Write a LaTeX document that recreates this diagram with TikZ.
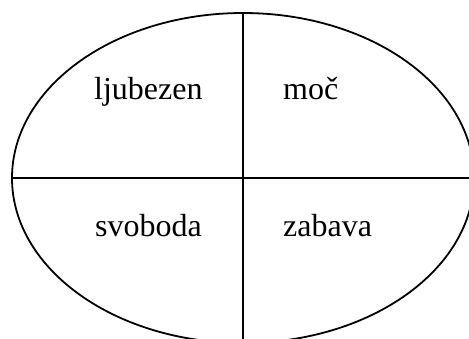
\documentclass[tikz,border=0pt]{standalone}
\usepackage{fontspec}
\setmainfont{Liberation Serif}
\begin{document}
\begin{tikzpicture}[x=1pt,y=-1pt,
  lbl/.style={anchor=base west,inner sep=0pt,font=\fontsize{32}{36}\selectfont},
  rim/.style={line width=1.8pt},
  divider/.style={line width=2.4pt}]
\useasboundingbox (0,0) rectangle (469,338);
\clip (0,0) rectangle (469,338);
\draw[rim] (243,178) ellipse [x radius=231, y radius=165];
\coordinate (top) at (243,13);
\coordinate (bot) at (243,345);
\coordinate (lft) at (12,178);
\coordinate (rgt) at (476,178);
\draw[divider] (top) -- (bot);
\draw[divider] (lft) -- (rgt);
\node[lbl] (l1) at (94,99) {ljubezen};
\node[lbl] (l2) at (283,99) {moč};
\node[lbl] (l3) at (95,236) {svoboda};
\node[lbl] (l4) at (283,236) {zabava};
\end{tikzpicture}
\end{document}
